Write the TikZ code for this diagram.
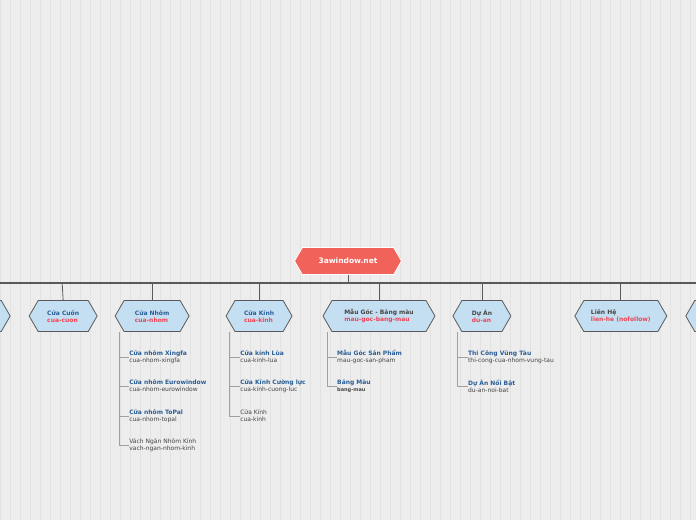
\documentclass[tikz,border=0pt]{standalone}
\usepackage{fontspec}
\setmainfont{DejaVu Sans}
\usetikzlibrary{positioning,shapes.symbols}
\definecolor{bgc}{HTML}{EDEDED}
\definecolor{gridc}{HTML}{E2E2E2}
\definecolor{rootc}{HTML}{F0625A}
\definecolor{topicc}{HTML}{C5DFF2}
\definecolor{titlec}{HTML}{2A5E96}
\definecolor{greyc}{HTML}{454545}
\definecolor{slugc}{HTML}{EF4455}
\definecolor{linec}{HTML}{5A5A5A}
\definecolor{sublinec}{HTML}{A0A0A0}
\begin{document}
\begin{tikzpicture}[
        x=1pt, y=-1pt,
        font=\fontsize{6}{7}\selectfont,
        topic/.style={
            signal, signal to=west and east, signal pointer angle=120,
            draw=linec, fill=topicc, line width=0.8pt,
            minimum height=31pt, align=left, inner xsep=6pt
        },
        root/.style={
            signal, signal to=west and east, signal pointer angle=120,
            draw=white, fill=rootc, line width=0.8pt, text=white,
            minimum height=27pt, font=\fontsize{7.5}{9}\selectfont\bfseries
        },
        item/.style={anchor=west, align=left, inner sep=0pt},
        trunk/.style={draw=linec, line width=1.2pt},
        branch/.style={draw=linec, line width=0.8pt},
        twig/.style={draw=sublinec, line width=0.6pt}
    ]
        % Background
        \fill[bgc] (0,0) rectangle (696,520);
        \draw[gridc, line width=0.4pt, step=10] (0,0) grid (696,520);
        \useasboundingbox (0,0) rectangle (696,520);

        % Root
        \node[root, minimum width=107pt] (site) at (348,261) {3awindow.net};
        \coordinate (busl) at (0,283);
        \coordinate (busr) at (696,283);
        \coordinate (busc) at (348,283);
        \draw[trunk] (busl) -- (busr);
        \draw[branch] (site.south) -- (busc);

        % Topic nodes
        \node[topic, minimum width=60pt] (left) at (-20,316) {\phantom{X}};
        \node[topic, minimum width=68pt] (cuon) at (63,316) {\textbf{\color{titlec}Cửa Cuốn}\\\textbf{\color{slugc}cua-cuon}\hspace{6pt}};
        \node[topic, minimum width=74pt] (nhom) at (152,316) {\textbf{\color{titlec}Cửa Nhôm}\\\textbf{\color{slugc}cua-nhom}\hspace{6pt}};
        \node[topic, minimum width=66pt] (kinh) at (259,316) {\textbf{\color{titlec}Cửa Kính}\\\textbf{\color{slugc}cua-kinh}\hspace{6pt}};
        \node[topic, minimum width=112pt] (mau) at (379,316) {\textbf{\color{greyc}Mẫu Góc - Bảng màu}\\\textbf{\color{slugc}mau-goc-bang-mau}};
        \node[topic, minimum width=58pt] (duan) at (482,316) {\textbf{\color{greyc}Dự Án}\hspace{8pt}\\\textbf{\color{slugc}du-an}\hspace{10pt}};
        \node[topic, minimum width=92pt] (lienhe) at (621,316) {\textbf{\color{greyc}Liên Hệ}\\\textbf{\color{slugc}lien-he (nofollow)}};
        \node[topic, minimum width=60pt] (right) at (716,316) {\phantom{X}};

        % Branch lines
        \foreach \t/\x in {cuon/62, nhom/152, kinh/259, mau/379, duan/482, lienhe/621}
            \draw[branch] (\x,283) -- (\t.north);

        % Cửa Nhôm items
        \node[item] (xingfa) at (129,357) {\textbf{\color{titlec}Cửa nhôm Xingfa}\\\color{greyc}cua-nhom-xingfa};
        \node[item] (euro) at (129,386) {\textbf{\color{titlec}Cửa nhôm Eurowindow}\\\color{greyc}cua-nhom-eurowindow};
        \node[item] (topal) at (129,416) {\textbf{\color{titlec}Cửa nhôm ToPal}\\\color{greyc}cua-nhom-topal};
        \node[item] (vach) at (129,445) {\color{greyc}Vách Ngăn Nhôm Kính\\\color{greyc}vach-ngan-nhom-kinh};
        \draw[twig] (119,332) -- (119,445) -- (vach.west);
        \foreach \n in {xingfa, euro, topal}
            \draw[twig] (119,0 |- \n.west) -- (\n.west);

        % Cửa Kính items
        \node[item] (lua) at (240,357) {\textbf{\color{titlec}Cửa kính Lùa}\\\color{greyc}cua-kinh-lua};
        \node[item] (cuongluc) at (240,386) {\textbf{\color{titlec}Cửa Kính Cường lực}\\\color{greyc}cua-kinh-cuong-luc};
        \node[item] (ckinh) at (240,416) {\color{greyc}Cửa Kính\\\color{greyc}cua-kinh};
        \draw[twig] (229,332) -- (229,416) -- (ckinh.west);
        \foreach \n in {lua, cuongluc}
            \draw[twig] (229,0 |- \n.west) -- (\n.west);

        % Mẫu Góc items
        \node[item] (sanpham) at (337,357) {\textbf{\color{titlec}Mẫu Góc Sản Phẩm}\\\color{greyc}mau-goc-san-pham};
        \node[item] (bangmau) at (337,386) {\textbf{\color{titlec}Bảng Màu}\\\textbf{\color{greyc}\fontsize{5}{6}\selectfont bang-mau}};
        \draw[twig] (327,332) -- (327,386) -- (bangmau.west);
        \draw[twig] (327,0 |- sanpham.west) -- (sanpham.west);

        % Dự Án items
        \node[item] (vungtau) at (468,357) {\textbf{\color{titlec}Thi Công Vũng Tàu}\\\color{greyc}thi-cong-cua-nhom-vung-tau};
        \node[item] (noibat) at (468,386) {\textbf{\color{titlec}Dự Án Nổi Bật}\\\color{greyc}du-an-noi-bat};
        \draw[twig] (457,332) -- (457,386) -- (noibat.west);
        \draw[twig] (457,0 |- vungtau.west) -- (vungtau.west);
    \end{tikzpicture}
\end{document}
